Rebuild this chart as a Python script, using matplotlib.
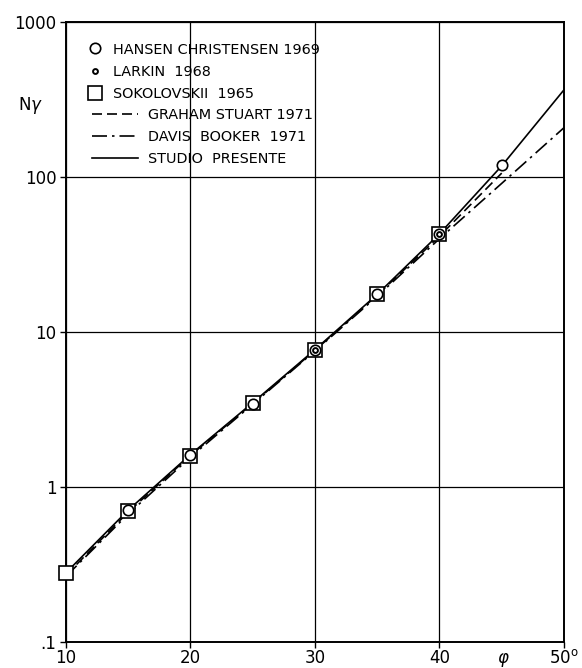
import matplotlib
matplotlib.use("Agg")
import matplotlib.pyplot as plt
from matplotlib.lines import Line2D

# angolo di attrito (gradi)
phi_curve = [10, 15, 20, 25, 30, 35, 40, 45, 50]
studio_presente = [0.28, 0.71, 1.62, 3.50, 7.70, 17.5, 43.0, 118, 365]
davis_booker = [0.265, 0.67, 1.56, 3.42, 7.55, 17.0, 40.0, 91, 208]
phi_graham = [10, 15, 20, 25, 30, 35, 40, 45]
graham_stuart = [0.27, 0.69, 1.60, 3.46, 7.62, 17.3, 41.5, 106]

phi_hansen = [15, 20, 25, 30, 35, 40, 45]
hansen = [0.71, 1.60, 3.45, 7.65, 17.5, 43.0, 120]
phi_larkin = [30, 40]
larkin = [7.65, 43.0]
phi_sokol = [10, 15, 20, 25, 30, 35, 40]
sokolovskii = [0.28, 0.70, 1.58, 3.46, 7.66, 17.6, 43.2]

x_ticks = [10, 20, 30, 40, 50]
x_labels = ["10", "20", "30", "40", r"50$^{\mathrm{o}}$"]
y_ticks = [0.1, 1, 10, 100, 1000]
y_labels = [".1", "1", "10", "100", "1000"]

plt.rcParams["font.family"] = ["DejaVu Sans"]

fig = plt.figure(figsize=(5.82, 6.68), dpi=100)
ax = fig.add_axes([0.1134, 0.0389, 0.969 - 0.1134, 0.967 - 0.0389])

ax.set_yscale("log")
ax.set_xlim(10, 50)
ax.set_ylim(0.1, 1000)

ax.set_xticks(x_ticks)
ax.set_xticklabels(x_labels, fontsize=12)
ax.set_yticks(y_ticks)
ax.set_yticklabels(y_labels, fontsize=12)
ax.minorticks_off()
ax.tick_params(direction="out", length=4, width=1, pad=3, colors="black")
ax.tick_params(axis="x", pad=1)

for s in ax.spines.values():
    s.set_linewidth(1.4)
ax.grid(True, color="black", linewidth=0.9)
ax.set_axisbelow(True)

lw = 1.2
ax.plot(phi_curve, studio_presente, color="black", lw=lw, zorder=3)
ax.plot(phi_graham, graham_stuart, color="black", lw=lw, dashes=(6, 3), zorder=3)
ax.plot(phi_curve, davis_booker, color="black", lw=lw, dashes=(9, 3, 1.5, 3), zorder=3)

ax.plot(phi_sokol, sokolovskii, ls="none", marker="s", ms=9.5, mfc="white",
        mec="black", mew=1.2, zorder=4, clip_on=False)
ax.plot(phi_hansen, hansen, ls="none", marker="o", ms=7.5, mfc="white",
        mec="black", mew=1.2, zorder=5)
ax.plot(phi_larkin, larkin, ls="none", marker="o", ms=3.5, mfc="white",
        mec="black", mew=1.4, zorder=6)

# legenda: simboli
h_marks = [
    Line2D([], [], ls="none", marker="o", ms=7.5, mfc="white", mec="black", mew=1.2),
    Line2D([], [], ls="none", marker="o", ms=3.5, mfc="white", mec="black", mew=1.4),
    Line2D([], [], ls="none", marker="s", ms=10, mfc="white", mec="black", mew=1.2),
]
leg1 = ax.legend(h_marks, ["HANSEN CHRISTENSEN 1969", "LARKIN  1968", "SOKOLOVSKII  1965"],
                 loc="upper left", bbox_to_anchor=(0.044, 0.967), frameon=False,
                 fontsize=10.4, handlelength=1.0, handletextpad=0.75, labelspacing=0.56,
                 borderpad=0, borderaxespad=0)
ax.add_artist(leg1)

# legenda: curve
h_lines = [
    Line2D([], [], color="black", lw=lw, dashes=(6, 3)),
    Line2D([], [], color="black", lw=lw, dashes=(9, 3, 1.5, 3)),
    Line2D([], [], color="black", lw=lw),
]
ax.legend(h_lines, ["GRAHAM STUART 1971", "DAVIS  BOOKER  1971", "STUDIO  PRESENTE"],
          loc="upper left", bbox_to_anchor=(0.052, 0.862), frameon=False,
          fontsize=10.4, handlelength=3.2, handletextpad=0.7, labelspacing=0.56,
          borderpad=0, borderaxespad=0)

fig.text(30 / 582, 1 - 105 / 668, r"N$\gamma$", fontsize=12, ha="center", va="center")
fig.text(503 / 582, 1 - 660 / 668, r"$\varphi$", fontsize=12, ha="center", va="center")

fig.savefig("out.png", dpi=100)
